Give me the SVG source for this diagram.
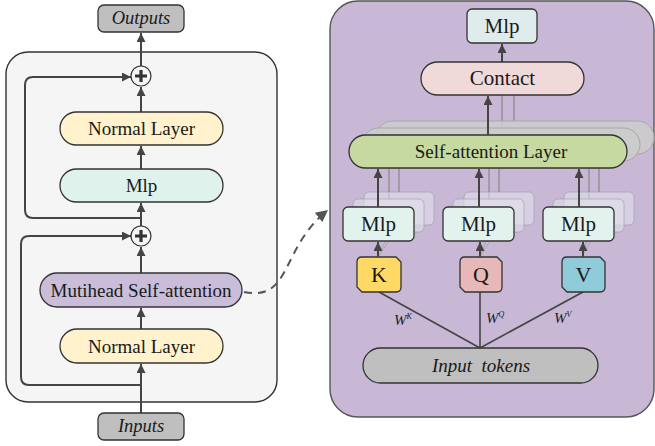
<svg xmlns="http://www.w3.org/2000/svg" width="655" height="446" viewBox="0 0 655 446">
<style>
  .t{font-family:"Liberation Serif","Times New Roman",serif;fill:#1a1a1a;text-anchor:middle;dominant-baseline:central}
  .it{font-style:italic}
  .w{font-family:"Liberation Serif","Times New Roman",serif;font-style:italic;font-size:15px;fill:#222}
  .ln{stroke:#444;stroke-width:2;fill:none}
  .thin{stroke:#888;stroke-width:1.2;fill:none}
  .faint{stroke:#aaa;stroke-width:1;fill:none}
  .box{stroke:#333;stroke-width:1.3}
  .mlpsh{fill:#e4e4ee;fill-opacity:0.55;stroke:#9a9aa8;stroke-opacity:0.6;stroke-width:1}
  .sash{fill:#cdcdcd;fill-opacity:0.85;stroke:#a8a8a8;stroke-width:1}
</style>
<defs>
  <marker id="ah" viewBox="0 0 10 10" refX="10" refY="5" markerWidth="9" markerHeight="9" markerUnits="userSpaceOnUse" orient="auto">
    <path d="M0,0 L10,5 L0,10 z" fill="#444"/>
  </marker>
  <marker id="ahd" viewBox="0 0 10 10" refX="10" refY="5" markerWidth="12" markerHeight="12" markerUnits="userSpaceOnUse" orient="auto">
    <path d="M0,0 L10,5 L0,10 z" fill="#555"/>
  </marker>
</defs>

<!-- panels -->
<g id="encoder-panel">
  <rect x="6" y="52" width="271" height="350" rx="22" fill="#f5f5f5" stroke="#333" stroke-width="1.4"/>
</g>
<g id="attention-panel">
  <rect x="330" y="1" width="324" height="416" rx="28" fill="#c8b8d6" stroke="#555" stroke-width="1.4"/>
</g>

<!-- connectors -->
<g id="connectors">
  <line class="ln" x1="141" y1="66" x2="141" y2="33" marker-end="url(#ah)"/>
  <line class="ln" x1="141" y1="112" x2="141" y2="87" marker-end="url(#ah)"/>
  <line class="ln" x1="141" y1="169" x2="141" y2="146" marker-end="url(#ah)"/>
  <line class="ln" x1="141" y1="226" x2="141" y2="203" marker-end="url(#ah)"/>
  <line class="ln" x1="141" y1="273" x2="141" y2="247" marker-end="url(#ah)"/>
  <line class="ln" x1="141" y1="329" x2="141" y2="308" marker-end="url(#ah)"/>
  <line class="ln" x1="141" y1="413" x2="141" y2="364" marker-end="url(#ah)"/>
  <path class="ln" d="M141 218 H33 Q25 218 25 210 V85 Q25 77 33 77 H131" marker-end="url(#ah)"/>
  <path class="ln" d="M141 385 H29 Q21 385 21 377 V244 Q21 236 29 236 H131" marker-end="url(#ah)"/>
  <path d="M244 292 C292 302 280 248 328 210" fill="none" stroke="#555" stroke-width="2" stroke-dasharray="8 6" marker-end="url(#ahd)"/>

  <line class="ln" x1="502" y1="62" x2="502" y2="44" marker-end="url(#ah)"/>
  <line class="thin" x1="502" y1="128" x2="502" y2="95"/>
  <line class="thin" x1="514" y1="121" x2="514" y2="95"/>
  <line class="thin" x1="389" y1="199" x2="389" y2="168"/>
  <line class="thin" x1="399" y1="192" x2="399" y2="168"/>
  <line class="thin" x1="489" y1="199" x2="489" y2="168"/>
  <line class="thin" x1="499" y1="192" x2="499" y2="168"/>
  <line class="thin" x1="589" y1="199" x2="589" y2="168"/>
  <line class="thin" x1="599" y1="192" x2="599" y2="168"/>
  <line class="faint" x1="378" y1="257" x2="389" y2="233"/>
  <line class="faint" x1="378" y1="257" x2="399" y2="226"/>
  <line class="faint" x1="480" y1="257" x2="489" y2="233"/>
  <line class="faint" x1="480" y1="257" x2="499" y2="226"/>
  <line class="faint" x1="582" y1="257" x2="589" y2="233"/>
  <line class="faint" x1="582" y1="257" x2="599" y2="226"/>
  <line x1="480" y1="348" x2="379" y2="292" stroke="#444" stroke-width="1.6"/>
  <line x1="480" y1="348" x2="480" y2="292" stroke="#444" stroke-width="1.6"/>
  <line x1="480" y1="348" x2="583" y2="292" stroke="#444" stroke-width="1.6"/>
</g>

<!-- left nodes -->
<g id="outputs">
  <rect class="box" x="98" y="5" width="86" height="27" rx="6" fill="#bfbfbf"/>
  <text class="t it" x="141" y="18" font-size="18.5">Outputs</text>
</g>
<g id="plus-top">
  <circle cx="141" cy="76" r="10" fill="#f5f5f5" stroke="#333" stroke-width="1.2"/>
  <path d="M135 76 H147 M141 70 V82" stroke="#333" stroke-width="3.2"/>
</g>
<g id="normal-layer-top">
  <rect class="box" x="60" y="112" width="163" height="33" rx="16.5" fill="#fff2cc"/>
  <text class="t" x="141.5" y="128.5" font-size="19">Normal Layer</text>
</g>
<g id="mlp-left">
  <rect class="box" x="60" y="169" width="163" height="33" rx="16.5" fill="#dff2ec"/>
  <text class="t" x="141.5" y="185.5" font-size="19">Mlp</text>
</g>
<g id="plus-bottom">
  <circle cx="141" cy="236" r="10" fill="#f5f5f5" stroke="#333" stroke-width="1.2"/>
  <path d="M135 236 H147 M141 230 V242" stroke="#333" stroke-width="3.2"/>
</g>
<g id="multihead">
  <rect class="box" x="40" y="273" width="202" height="34" rx="17" fill="#c9bdd9"/>
  <text class="t" x="141" y="290" font-size="19">Mutihead Self-attention</text>
</g>
<g id="normal-layer-bottom">
  <rect class="box" x="60" y="329" width="163" height="34" rx="17" fill="#fff2cc"/>
  <text class="t" x="141.5" y="346" font-size="19">Normal Layer</text>
</g>
<g id="inputs">
  <rect class="box" x="98" y="413" width="86" height="27" rx="6" fill="#bfbfbf"/>
  <text class="t it" x="141" y="426" font-size="18.5">Inputs</text>
</g>

<!-- right nodes -->
<g id="mlp-top">
  <rect class="box" x="467" y="9" width="70" height="34" rx="5" fill="#dfecec"/>
  <text class="t" x="502" y="25.5" font-size="21">Mlp</text>
</g>
<g id="contact">
  <rect class="box" x="421" y="62" width="163" height="33" rx="16.5" fill="#f0d9d9"/>
  <text class="t" x="502.5" y="78" font-size="21">Contact</text>
</g>
<g id="self-attention-layer">
  <rect class="sash" x="376" y="121" width="278" height="33" rx="16.5"/>
  <rect class="sash" x="362" y="128" width="278" height="33" rx="16.5"/>
  <rect class="box" x="349" y="135" width="278" height="33" rx="16.5" fill="#c6d9a0"/>
  <line class="ln" x1="488" y1="135" x2="488" y2="96" marker-end="url(#ah)"/>
  <text class="t" x="491" y="151" font-size="19">Self-attention Layer</text>
</g>
<g id="mlp-k">
  <rect class="mlpsh" x="364" y="192" width="70" height="33" rx="5"/>
  <rect class="mlpsh" x="353" y="199" width="71" height="33" rx="5"/>
  <rect class="box" x="343" y="207" width="71" height="34" rx="5" fill="#e2f3ee"/>
  <line class="ln" x1="378" y1="207" x2="378" y2="169" marker-end="url(#ah)"/>
  <text class="t" x="378.5" y="223.5" font-size="21">Mlp</text>
</g>
<g id="mlp-q">
  <rect class="mlpsh" x="464" y="192" width="70" height="33" rx="5"/>
  <rect class="mlpsh" x="453" y="199" width="71" height="33" rx="5"/>
  <rect class="box" x="443" y="207" width="71" height="34" rx="5" fill="#e2f3ee"/>
  <line class="ln" x1="479" y1="207" x2="479" y2="169" marker-end="url(#ah)"/>
  <text class="t" x="478.5" y="223.5" font-size="21">Mlp</text>
</g>
<g id="mlp-v">
  <rect class="mlpsh" x="564" y="192" width="70" height="33" rx="5"/>
  <rect class="mlpsh" x="553" y="199" width="71" height="33" rx="5"/>
  <rect class="box" x="543" y="207" width="71" height="34" rx="5" fill="#e2f3ee"/>
  <line class="ln" x1="579" y1="207" x2="579" y2="169" marker-end="url(#ah)"/>
  <text class="t" x="578.5" y="223.5" font-size="21">Mlp</text>
</g>
<g id="k">
  <path class="box" d="M362 257 H396 L401 262 V287 Q401 292 396 292 H362 L357 287 V262 Q357 257 362 257 Z" fill="#ffd966"/>
  <line class="ln" x1="378" y1="257" x2="378" y2="242" marker-end="url(#ah)"/>
  <text class="t" x="379" y="274" font-size="22">K</text>
</g>
<g id="q">
  <path class="box" d="M465 257 H497 L502 262 V287 Q502 292 497 292 H465 L460 287 V262 Q460 257 465 257 Z" fill="#e6b9b8"/>
  <line class="ln" x1="480" y1="257" x2="480" y2="242" marker-end="url(#ah)"/>
  <text class="t" x="481" y="274" font-size="22">Q</text>
</g>
<g id="v">
  <path class="box" d="M567 257 H600 L605 262 V287 Q605 292 600 292 H567 L562 287 V262 Q562 257 567 257 Z" fill="#8fcbd9"/>
  <line class="ln" x1="583" y1="257" x2="583" y2="242" marker-end="url(#ah)"/>
  <text class="t" x="583.5" y="274" font-size="22">V</text>
</g>
<g id="weights">
  <text class="w" x="394" y="325">W<tspan font-size="8" dy="-6">K</tspan></text>
  <text class="w" x="486" y="323">W<tspan font-size="8" dy="-6">Q</tspan></text>
  <text class="w" x="554" y="323">W<tspan font-size="8" dy="-6">V</tspan></text>
</g>
<g id="input-tokens">
  <rect class="box" x="363" y="348" width="235" height="35" rx="17.5" fill="#bfbfbf"/>
  <text class="t it" x="481" y="365" font-size="19" xml:space="preserve">Input  tokens</text>
</g>
</svg>
